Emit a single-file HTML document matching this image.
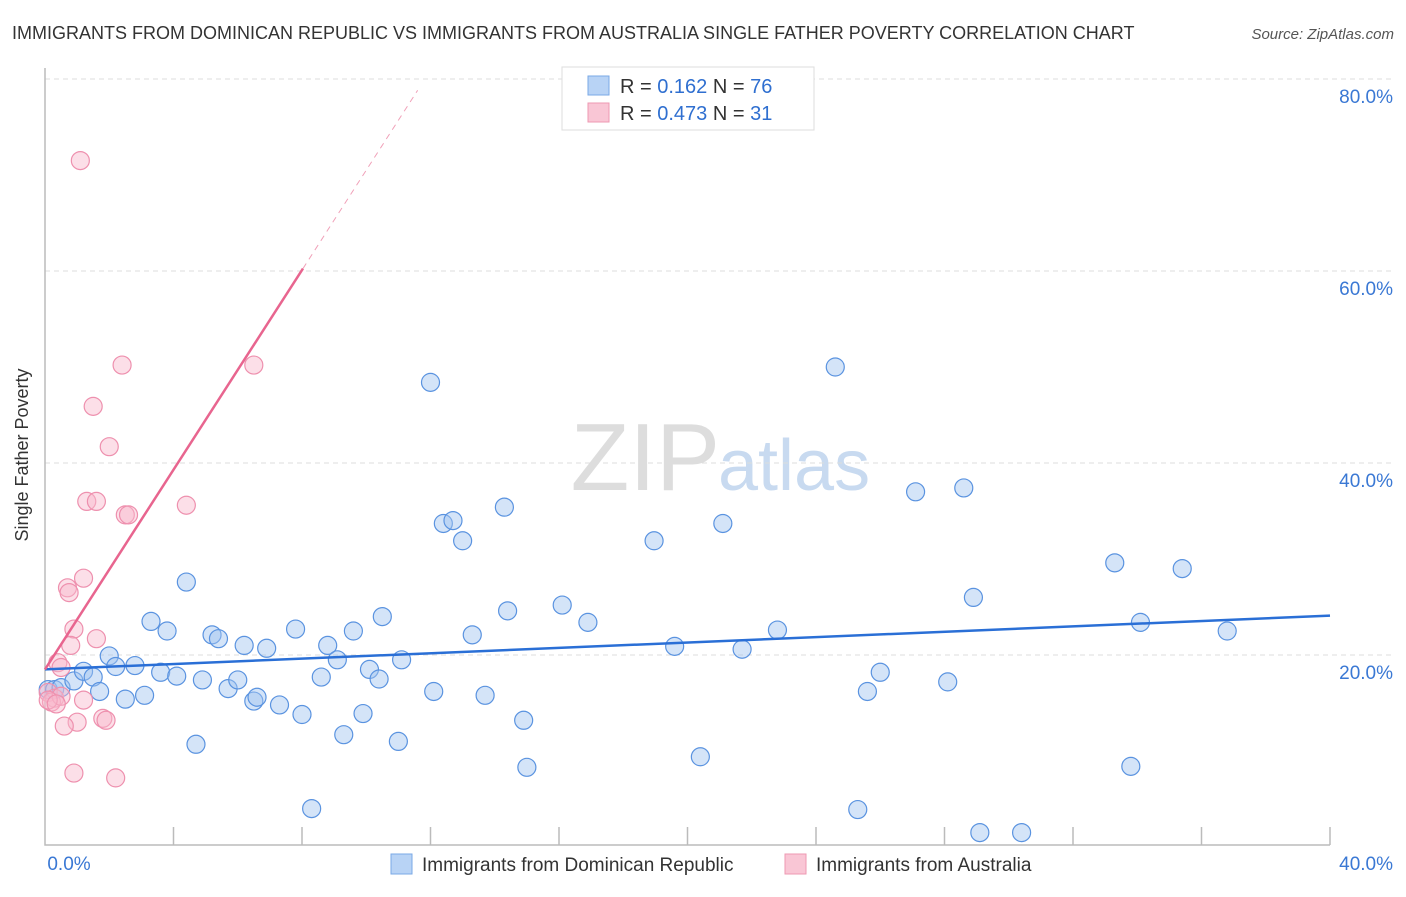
<!DOCTYPE html>
<html><head><meta charset="utf-8"><style>
body{margin:0;background:#fff;font-family:"Liberation Sans",sans-serif}
svg text{font-family:"Liberation Sans",sans-serif}
</style></head><body>
<svg id="c" width="1406" height="892" xmlns="http://www.w3.org/2000/svg">
<text x="12" y="39" font-size="18" fill="#333">IMMIGRANTS FROM DOMINICAN REPUBLIC VS IMMIGRANTS FROM AUSTRALIA SINGLE FATHER POVERTY CORRELATION CHART</text>
<text x="1394" y="39" font-size="15" fill="#555" font-style="italic" text-anchor="end">Source: ZipAtlas.com</text>
<text x="28" y="455" font-size="18" fill="#333" text-anchor="middle" transform="rotate(-90 28 455)">Single Father Poverty</text>
<text x="720" y="490" font-size="96" fill="#ddd" text-anchor="end" font-family="Liberation Serif">ZIP</text>
<text x="718" y="490" font-size="72" fill="#c8daf0">atlas</text>
<g id="grid"></g><g id="pts"></g><g id="lines"></g>
<g>
<rect x="562" y="67" width="252" height="63" fill="#fff" stroke="#ddd"/>
<rect x="588" y="76" width="21" height="19" fill="#b8d3f5" stroke="#7aa8e6"/>
<rect x="588" y="103" width="21" height="19" fill="#f9c6d5" stroke="#ee98b2"/>
<text x="620" y="93" font-size="20" fill="#333">R = <tspan fill="#2f6fd0"> 0.162</tspan>   N = <tspan fill="#2f6fd0">76</tspan></text>
<text x="620" y="120" font-size="20" fill="#333">R = <tspan fill="#2f6fd0">0.473</tspan>   N = <tspan fill="#2f6fd0"> 31</tspan></text>
</g>
<g>
<rect x="391" y="854" width="21" height="20" fill="#b8d3f5" stroke="#7aa8e6"/>
<text x="422" y="871" font-size="19" fill="#333">Immigrants from Dominican Republic</text>
<rect x="785" y="854" width="21" height="20" fill="#f9c6d5" stroke="#ee98b2"/>
<text x="816" y="871" font-size="19" fill="#333">Immigrants from Australia</text>
</g>
</svg>
<script>
const yTicks=[20,40,60,80];
const xTickLabels=["0.0%","40.0%"];
const blueX=[0.1,0.3,0.5,0.9,1.2,1.5,1.7,2.0,2.2,2.5,2.8,3.1,3.3,3.6,3.8,4.1,4.4,4.7,4.9,5.2,5.4,5.7,6.0,6.2,6.5,6.6,6.9,7.3,7.8,8.0,8.3,8.6,8.8,9.1,9.3,9.6,9.9,10.1,10.4,10.5,11.0,11.1,12.0,12.1,12.4,12.7,13.0,13.3,13.7,14.3,14.4,14.9,15.0,16.1,16.9,18.96,19.6,20.4,21.1,21.7,22.8,24.6,25.3,25.6,26.0,27.1,28.1,28.6,28.9,29.1,30.4,33.3,33.8,34.1,35.4,36.8];
const blueY=[16.4,16.4,16.6,17.3,18.3,17.7,16.2,19.9,18.8,15.4,18.9,15.8,23.5,18.2,22.5,17.8,27.6,10.7,17.4,22.1,21.7,16.5,17.4,21.0,15.2,15.6,20.7,14.8,22.7,13.8,4.0,17.7,21.0,19.5,11.7,22.5,13.9,18.5,17.5,24.0,11.0,19.5,48.4,16.2,33.7,34.0,31.9,22.1,15.8,35.4,24.6,13.2,8.3,25.2,23.4,31.9,20.9,9.4,33.7,20.6,22.6,50.0,3.9,16.2,18.2,37.0,17.2,37.4,26.0,1.5,1.5,29.6,8.4,23.4,29.0,22.5];
const pinkX=[1.1,2.4,6.5,1.5,2.0,1.3,1.6,2.5,2.6,4.4,1.2,0.7,0.75,0.9,1.6,0.8,0.4,0.5,0.1,0.3,0.2,0.5,1.2,1.8,1.9,1.0,0.6,0.9,2.2,0.1,0.35];
const pinkY=[71.5,50.2,50.2,45.9,41.7,36.0,36.0,34.6,34.6,35.6,28.0,27.0,26.5,22.7,21.7,21.0,19.2,18.7,16.1,15.5,15.1,15.7,15.3,13.4,13.2,13.0,12.6,7.7,7.2,15.3,14.9];
const blueTrend=[18.5,24.1];
const pinkTrend=[18.5,5.2];
const X=v=>45+v*32.125, Y=v=>847-v*9.6;
const NS="http://www.w3.org/2000/svg";
function mk(t,a,p){const e=document.createElementNS(NS,t);for(const k in a)e.setAttribute(k,a[k]);document.getElementById(p).appendChild(e);return e;}
yTicks.forEach(t=>{
 const l=mk('line',{x1:45,x2:1394,y1:Y(t),y2:Y(t),stroke:'#ddd','stroke-dasharray':'5,4'},'grid');
 
 
 const tx=mk('text',{x:1393,y:Y(t)+24,'font-size':19,fill:'#3a78d4','text-anchor':'end'},'grid');tx.textContent=t.toFixed(1)+'%';
 
 
});
const ax=mk('path',{d:'M45 68V845H1330',fill:'none',stroke:'#bbb','stroke-width':1.5},'grid');


for(let i=1;i<=10;i++){const t=mk('line',{x1:X(i*4),x2:X(i*4),y1:827,y2:845,stroke:'#bbb','stroke-width':1.5},'grid');
 
 }
[[0,69,'start'],[40,1393,'end']].forEach((d,i)=>{const t=mk('text',{x:d[1],y:870,'font-size':19,fill:'#3a78d4','text-anchor':i?'end':'middle'},'grid');t.textContent=xTickLabels[i];
 
 });
blueX.forEach((v,i)=>{const c=mk('circle',{cx:X(v),cy:Y(blueY[i]),r:9,fill:'rgba(160,196,240,0.45)',stroke:'#5a93e0','stroke-width':1.2},'pts');
 
 });
pinkX.forEach((v,i)=>{const c=mk('circle',{cx:X(v),cy:Y(pinkY[i]),r:9,fill:'rgba(248,185,205,0.45)',stroke:'#ee90ae','stroke-width':1.2},'pts');
 
 });
const bl=mk('line',{x1:X(0),y1:Y(blueTrend[0]),x2:X(40),y2:Y(blueTrend[1]),stroke:'#2a6fd6','stroke-width':2.5},'lines');


const pe=8.03, pd=11.6;
const pl=mk('line',{x1:X(0),y1:Y(pinkTrend[0]),x2:X(pe),y2:Y(pinkTrend[0]+pinkTrend[1]*pe),stroke:'#e8658f','stroke-width':2.5},'lines');


const pdl=mk('line',{x1:X(pe),y1:Y(pinkTrend[0]+pinkTrend[1]*pe),x2:X(pd),y2:Y(pinkTrend[0]+pinkTrend[1]*pd),stroke:'#f0a0b8','stroke-width':1,'stroke-dasharray':'6,5'},'lines');


</script>
</body></html>
